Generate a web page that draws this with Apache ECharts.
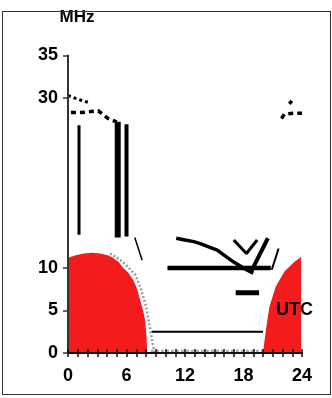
<html style="height: 100%">
<head>
<meta charset="utf-8">
</head>
<body style="height: 100%; margin: 0; background: #fff">
	<div id="container" style="height: 100%"></div>
	<div style="position: absolute; left: 2px; top: 11px; width: 327px; height: 382px; border: 1.5px solid #333; pointer-events: none"></div>

	<script src="https://cdn.jsdelivr.net/npm/echarts@6/dist/echarts.min.js"></script>
	<script type="text/javascript">
		var dom = document.getElementById("container");
		var myChart = echarts.init(dom);

		// 刻度
		var xLabels = [0, 6, 12, 18, 24];
		var yLabels = [0, 5, 10, 30, 35];

		// 红色区域 (UTC 小时, MHz)
		var redLeft = [[0, 0], [0, 11.2], [0.8, 11.5], [1.6, 11.7], [2.5, 11.8], [3.3, 11.7], [4.1, 11.5], [4.6, 11.2], [5.2, 10.7], [5.6, 10.1], [6.2, 9.4], [6.7, 8.6], [7.1, 7.5], [7.4, 6.2], [7.7, 5], [7.9, 3.9], [8.05, 2], [8.1, 0.7], [8.1, 0]];
		var redRight = [[20, 0], [20.3, 2.7], [20.65, 5.4], [21.3, 7.8], [22.2, 9.6], [23.2, 10.7], [23.9, 11.3], [23.9, 0]];
		var redEdge = [[4.3, 11.7], [5.2, 11.1], [6, 10.3], [6.9, 9.2], [7.5, 7.5], [8, 5.5], [8.4, 3], [8.7, 1], [8.9, 0]];
		var baseHatch = [[8.5, 0.2], [20, 0.2]];

		// 黑色线段
		var lowLine = [[8.6, 2.5], [20, 2.5]];
		var midLine = [[10.2, 10], [20.8, 10]];
		var curveLine = [[11.1, 13.5], [12.0, 13.3], [12.9, 13.1], [13.5, 12.9], [15.3, 12.1], [17.0, 10.7], [18.3, 9.8], [19.0, 9.4]];
		var vLine = [[17.0, 13.3], [18.3, 11.7], [19.4, 13.3]];
		var diagLine = [[20.5, 13.5], [18.7, 9.4]];
		var thinLine = [[21.6, 12.3], [20.9, 9.8]];
		var dashLine = [[17.2, 7.1], [19.6, 7.1]];
		var slashLine = [[6.85, 13.6], [7.6, 10.9]];
		var bar1 = [[1.13, 13.9], [1.13, 26.8]];
		var bar2 = [[5.1, 13.6], [5.1, 27.2]];
		var bar3 = [[6.0, 13.7], [6.0, 26.9]];

		// 虚线
		var dotsUpperLeft = [[0, 30.3], [0.4, 30.1], [1.2, 29.8], [2.3, 29.4]];
		var dotsLowerLeft = [[0.3, 28.3], [1.4, 28.3], [2.3, 28.4], [3.1, 28.5], [4.1, 27.6], [5.0, 27.2]];
		var dotsRightUpper = [[22.7, 29.3], [23.0, 29.7]];
		var dotsRightLower = [[21.9, 27.6], [22.2, 28.1], [23.1, 28.2], [24, 28.2]];

		function seg(data, width, color, type) {
			return {
				type : 'line',
				data : data,
				symbol : 'none',
				silent : true,
				z : 4,
				lineStyle : {
					color : color || '#000',
					width : width,
					type : type || 'solid',
					cap : 'butt'
				}
			};
		}

		var redArea = function (data) {
			return {
				type : 'line',
				data : data,
				symbol : 'none',
				silent : true,
				z : 2,
				lineStyle : { width : 0 },
				areaStyle : { color : '#f21c1c', opacity : 1 }
			};
		};

		var font = '"Liberation Sans", Arial, sans-serif';

		var option = {
			animation : false,
			grid : {
				left : 68,
				right : 30,
				top : 55.5,
				bottom : 45
			},
			xAxis : [ {
				type : 'value',
				min : 0,
				max : 24,
				interval : 1,
				position : 'bottom',
				z : 5,
				splitLine : { show : false },
				axisLine : { show : true, onZero : false, lineStyle : { color : '#111', width : 2 } },
				axisTick : { show : false },
				axisLabel : {
					margin : 14,
					color : '#000',
					fontFamily : font,
					fontWeight : 'bold',
					fontSize : 18,
					formatter : function (v) {
						return xLabels.indexOf(v) >= 0 ? String(v) : '';
					}
				}
			}, {
				// 横跨轴线的刻度
				type : 'value',
				min : 0,
				max : 24,
				interval : 1,
				position : 'bottom',
				offset : -4,
				z : 6,
				splitLine : { show : false },
				axisLine : { show : false, onZero : false },
				axisTick : { show : true, length : 8, lineStyle : { color : '#111', width : 1.5 } },
				axisLabel : { show : false }
			} ],
			yAxis : [ {
				type : 'value',
				min : 0,
				max : 35,
				interval : 5,
				name : 'MHz',
				nameLocation : 'end',
				nameGap : 30,
				z : 5,
				nameTextStyle : {
					color : '#000',
					fontFamily : font,
					fontWeight : 'bold',
					fontSize : 17,
					padding : [0, 0, 0, 18]
				},
				splitLine : { show : false },
				axisLine : { show : true, onZero : false, lineStyle : { color : '#333', width : 2 } },
				axisTick : { show : true, length : 5, customValues : yLabels, lineStyle : { color : '#333', width : 1.5 } },
				axisLabel : {
					margin : 10,
					color : '#000',
					fontFamily : font,
					fontWeight : 'bold',
					fontSize : 18,
					formatter : function (v) {
						return yLabels.indexOf(v) >= 0 ? String(v) : '';
					}
				}
			} ],
			graphic : [ {
				type : 'text',
				right : 19,
				top : 301,
				z : 10,
				style : {
					text : 'UTC',
					fill : '#000',
					font : 'bold 18px "Liberation Sans", Arial, sans-serif'
				}
			} ],
			series : [
				redArea(redLeft),
				redArea(redRight),
				seg(redEdge, 2.5, '#9a9a9a', [2, 2]),
				seg(baseHatch, 3, '#aaaaaa', [3, 2]),
				seg(lowLine, 2),
				seg(midLine, 4.5),
				seg(curveLine, 3.5),
				seg(vLine, 3),
				seg(diagLine, 4),
				seg(thinLine, 2),
				seg(dashLine, 5),
				seg(slashLine, 1.5),
				seg(bar1, 3),
				seg(bar2, 6),
				seg(bar3, 4),
				seg(dotsUpperLeft, 3, '#000', [3, 3]),
				seg(dotsLowerLeft, 3.5, '#000', [5, 4]),
				seg(dotsRightUpper, 3.5, '#000', [4, 3]),
				seg(dotsRightLower, 3.5, '#000', [5, 4])
			]
		};

		myChart.setOption(option);
	</script>
</body>
</html>
